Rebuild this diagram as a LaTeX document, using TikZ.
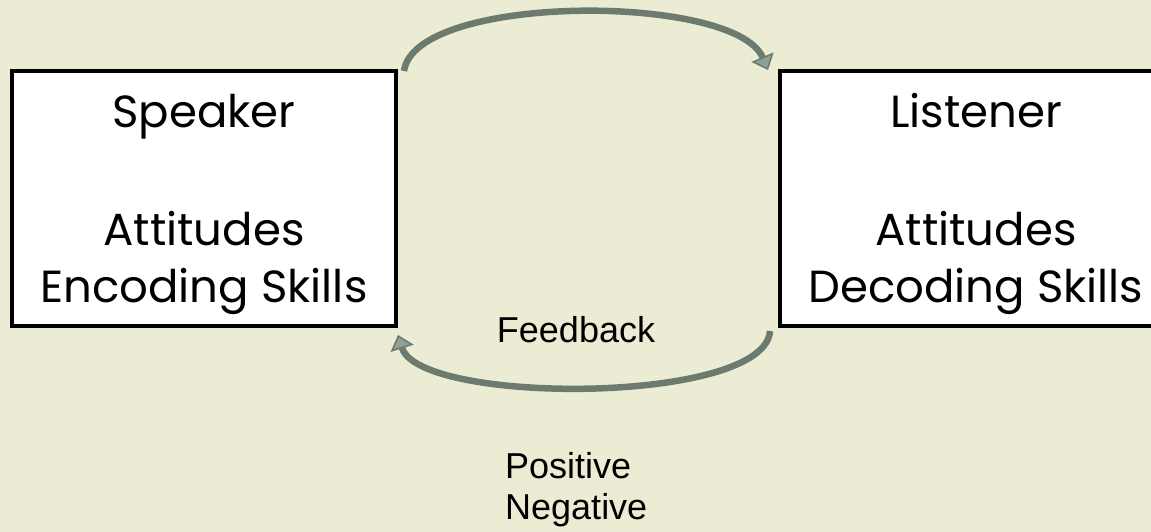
\documentclass[tikz,border=0pt]{standalone}
\usepackage{fontspec}
\setmainfont{Liberation Sans}
\newfontfamily\boxfont{Poppins}
\usetikzlibrary{arrows.meta}
\definecolor{bg}{RGB}{236,236,212}
\definecolor{arrowdark}{RGB}{108,122,112}
\definecolor{arrowlight}{RGB}{143,160,150}
\begin{document}
\begin{tikzpicture}[x=1pt,y=-1pt,
  personbox/.style={draw=black, line width=4pt, fill=white, rectangle, inner sep=0pt},
  boxtext/.style={font=\boxfont\fontsize{45}{57}\selectfont, anchor=base, inner sep=0pt},
  loopline/.style={draw=arrowdark, line width=6.5pt, -{Triangle[width=24pt,length=14pt,fill=arrowlight,line width=1.5pt]}},
  plainlabel/.style={font=\fontsize{36}{41}\selectfont, inner sep=0pt}]
\fill[bg] (0,0) rectangle (1151,532);
\useasboundingbox (0,0) rectangle (1151,532);
\clip (0,0) rectangle (1151,532);

\node[personbox, minimum width=384pt, minimum height=255pt] (speaker) at (204,198.5) {};
\node[personbox, minimum width=392pt, minimum height=255pt] (listener) at (976,198.5) {};

\node[boxtext] (sp1) at (204,128) {Speaker};
\node[boxtext] (sp2) at (204,245) {Attitudes};
\node[boxtext] (sp3) at (204,302) {Encoding Skills};

\node[boxtext] (li1) at (976,128) {Listener};
\node[boxtext] (li2) at (976,245) {Attitudes};
\node[boxtext] (li3) at (976,302) {Decoding Skills};

\coordinate (topstart) at ([xshift=6pt,yshift=-2pt]speaker.north east);
\coordinate (topend) at ([xshift=-10pt,yshift=-1pt]listener.north west);
\draw[loopline] (topstart) .. controls (415,-7) and (735,-7) .. (topend);

\coordinate (botstart) at ([xshift=-8pt,yshift=-3pt]listener.south west);
\coordinate (botend) at ([xshift=0pt,yshift=-7pt]speaker.south east);
\draw[loopline] (botstart) .. controls (765,405) and (420,405) .. (botend);

\node[plainlabel, anchor=base] (feedback) at (576,342) {Feedback};
\node[plainlabel, anchor=north west, align=left] (valence) at (505,452) {Positive\\Negative};
\end{tikzpicture}
\end{document}
